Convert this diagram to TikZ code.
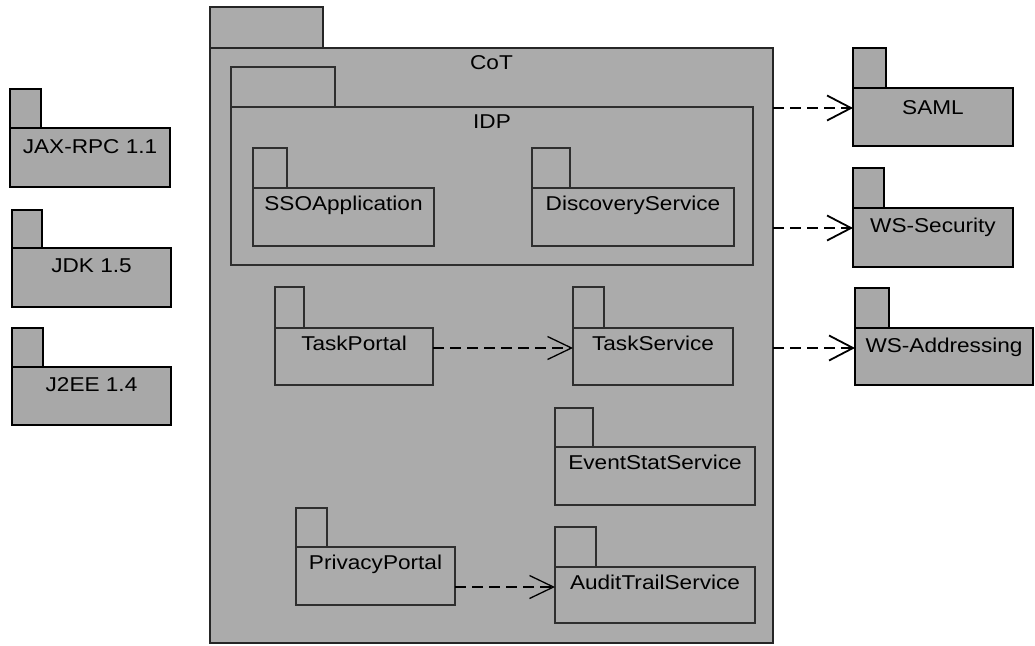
\documentclass[tikz,border=0pt]{standalone}
\usepackage{fontspec}
\setmainfont{Liberation Sans}[FakeStretch=1.13]
\usetikzlibrary{arrows.meta}
\definecolor{cotgray}{gray}{0.67}
\definecolor{extgray}{gray}{0.66}
% #1 name, #2 x1, #3 body top, #4 x2, #5 bottom, #6 tab right, #7 tab top, #8 style
\newcommand{\pkgdraw}[8]{%
  \draw[#8] (#2,#7) rectangle (#6,#3);
  \node[#8, anchor=north west, inner sep=0pt, outer sep=0pt,
        minimum width={(#4-#2)*1pt}, minimum height={(#5-#3)*1pt}] (#1) at (#2,#3) {};
  \coordinate (#1-in) at ([yshift=-20pt]#1.north west);
}
\begin{document}
\begin{tikzpicture}[x=1pt,y=-1pt,
  cotpkg/.style={draw=black!85, line width=1.4pt, fill=cotgray},
  inpkg/.style={draw=black!82, line width=1.3pt},
  extpkg/.style={draw=black, line width=2pt, fill=extgray},
  lbl/.style={font=\fontsize{20}{23}\selectfont, anchor=base, inner sep=0pt},
  dep/.style={line width=1.8pt, dash pattern=on 11pt off 6pt,
    -{Straight Barb[length=24pt,width=25pt,line width=1.8pt]}},
  indep/.style={line width=1.3pt, dash pattern=on 11pt off 6pt,
    -{Straight Barb[length=24pt,width=23pt,line width=1.3pt]}}]
\useasboundingbox (0,0) rectangle (1035,645);

% CoT
\pkgdraw{cot}{210}{48}{773}{643}{323}{7}{cotpkg}
\node[lbl] (cot-t) at ([yshift=-21pt]cot.north) {CoT};

% IDP
\pkgdraw{idp}{231}{107}{753}{265}{335}{67}{inpkg}
\node[lbl] (idp-t) at ([yshift=-21pt]idp.north) {IDP};

\pkgdraw{sso}{253}{188}{434}{246}{287}{148}{inpkg}
\node[lbl] (sso-t) at ([yshift=-22pt]sso.north) {SSOApplication};
\pkgdraw{disc}{532}{188}{734}{246}{570}{148}{inpkg}
\node[lbl] (disc-t) at ([yshift=-22pt]disc.north) {DiscoveryService};

\pkgdraw{tp}{275}{328}{433}{385}{304}{287}{inpkg}
\node[lbl] (tp-t) at ([yshift=-22pt]tp.north) {TaskPortal};
\pkgdraw{ts}{573}{328}{733}{385}{604}{287}{inpkg}
\node[lbl] (ts-t) at ([yshift=-22pt]ts.north) {TaskService};

\pkgdraw{ev}{555}{447}{755}{505}{593}{408}{inpkg}
\node[lbl] (ev-t) at ([yshift=-22pt]ev.north) {EventStatService};

\pkgdraw{pp}{296}{547}{455}{605}{327}{508}{inpkg}
\node[lbl] (pp-t) at ([yshift=-22pt]pp.north) {PrivacyPortal};
\pkgdraw{at}{555}{567}{755}{623}{596}{527}{inpkg}
\node[lbl] (at-t) at ([yshift=-22pt]at.north) {AuditTrailService};

% left packages
\pkgdraw{jax}{10}{128}{170}{187}{41}{89}{extpkg}
\node[lbl] (jax-t) at ([yshift=-25pt]jax.north) {JAX-RPC 1.1};
\pkgdraw{jdk}{12}{248}{171}{307}{42}{210}{extpkg}
\node[lbl] (jdk-t) at ([yshift=-24pt]jdk.north) {JDK 1.5};
\pkgdraw{jee}{12}{367}{171}{425}{43}{328}{extpkg}
\node[lbl] (jee-t) at ([yshift=-24pt]jee.north) {J2EE 1.4};

% right packages
\pkgdraw{saml}{853}{88}{1013}{146}{886}{48}{extpkg}
\node[lbl] (saml-t) at ([yshift=-26pt]saml.north) {SAML};
\pkgdraw{wss}{853}{208}{1013}{267}{884}{168}{extpkg}
\node[lbl] (wss-t) at ([yshift=-24pt]wss.north) {WS-Security};
\pkgdraw{wsa}{855}{328}{1033}{385}{889}{288}{extpkg}
\node[lbl] (wsa-t) at ([yshift=-24pt]wsa.north) {WS-Addressing};

% dependencies
\draw[dep] (cot.east |- saml-in) -- (saml-in);
\draw[dep] (cot.east |- wss-in) -- (wss-in);
\draw[dep] (cot.east |- wsa-in) -- (wsa-in);
\draw[indep] (tp.east |- ts-in) -- (ts-in);
\draw[indep] (pp.east |- at-in) -- (at-in);
\end{tikzpicture}
\end{document}
